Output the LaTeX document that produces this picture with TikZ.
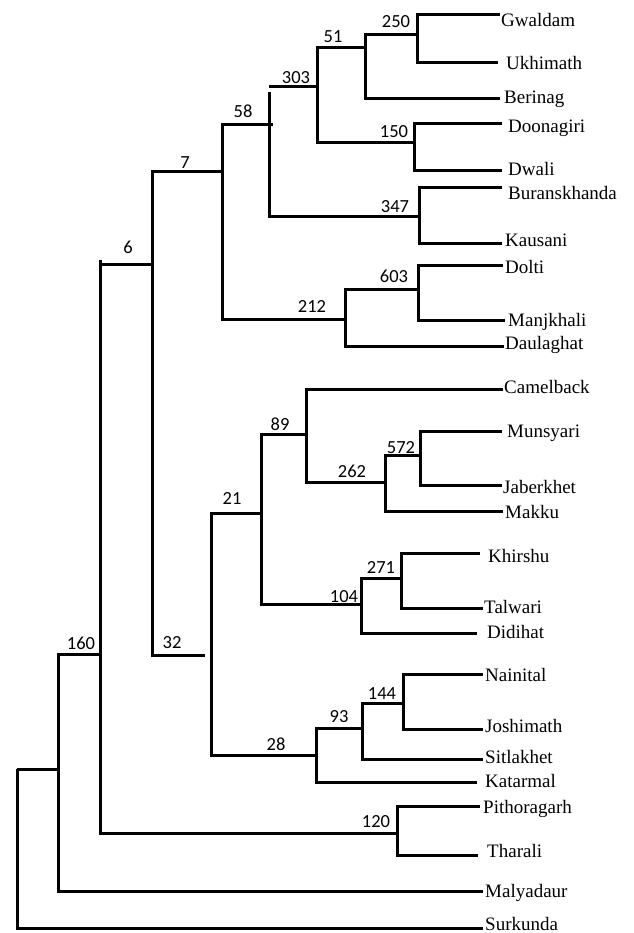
\documentclass[tikz,border=0pt]{standalone}
\usepackage{fontspec}
\setmainfont{Liberation Serif}
\newfontfamily\numfont{Carlito}
\begin{document}
\begin{tikzpicture}[x=1pt,y=-1pt,
  branch/.style={line width=3pt, line join=miter},
  taxon/.style={anchor=base west, inner sep=0pt, font=\fontsize{19}{19}\selectfont},
  boot/.style={anchor=base, inner sep=0pt, font={\numfont\fontsize{18.5}{18.5}\selectfont}}]
\useasboundingbox[fill=white] (0,0) rectangle (633,933);

% internal nodes: (x of the vertical bar, y of the incoming branch)
\coordinate (root) at (17,769);
\coordinate (c0)   at (58,769);
\coordinate (c160) at (100,654);
\coordinate (c6)   at (152,264);
\coordinate (c7)   at (222,172);
\coordinate (c58)  at (269,125);
\coordinate (c303) at (317,87);
\coordinate (c51)  at (365,48);
\coordinate (c250) at (417,35);
\coordinate (c150) at (414,143);
\coordinate (c347) at (419,217);
\coordinate (c212) at (345,319);
\coordinate (c603) at (418,289);
\coordinate (c32)  at (211,655);
\coordinate (c21)  at (261,513);
\coordinate (c89)  at (306,434);
\coordinate (c262) at (385,482);
\coordinate (c572) at (420,455);
\coordinate (c104) at (361,604);
\coordinate (c271) at (401,578);
\coordinate (c28)  at (316,755);
\coordinate (c93)  at (362,728);
\coordinate (c144) at (403,703);
\coordinate (c120) at (397,833);

% tips of the terminal branches
\coordinate (tGwaldam)      at (500,15);
\coordinate (tUkhimath)     at (498,63);
\coordinate (tBerinag)      at (500,99);
\coordinate (tDoonagiri)    at (502,124);
\coordinate (tDwali)        at (502,171);
\coordinate (tBuranskhanda) at (502,188);
\coordinate (tKausani)      at (502,243);
\coordinate (tDolti)        at (503,265);
\coordinate (tManjkhali)    at (505,320);
\coordinate (tDaulaghat)    at (504,346);
\coordinate (tCamelback)    at (503,389);
\coordinate (tMunsyari)     at (502,431);
\coordinate (tJaberkhet)    at (502,485);
\coordinate (tMakku)        at (503,511);
\coordinate (tKhirshu)      at (480,553);
\coordinate (tTalwari)      at (483,608);
\coordinate (tDidihat)      at (477,633);
\coordinate (tNainital)     at (483,674);
\coordinate (tJoshimath)    at (483,729);
\coordinate (tSitlakhet)    at (483,759);
\coordinate (tKatarmal)     at (477,782);
\coordinate (tPithoragarh)  at (480,806);
\coordinate (tTharali)      at (478,855);
\coordinate (tMalyadaur)    at (483,891);
\coordinate (tSurkunda)     at (483,928);

% taxon names
\node[taxon] (Gwaldam)      at (501,27)  {Gwaldam};
\node[taxon] (Ukhimath)     at (506,70)  {Ukhimath};
\node[taxon] (Berinag)      at (504,104) {Berinag};
\node[taxon] (Doonagiri)    at (508,133) {Doonagiri};
\node[taxon] (Dwali)        at (508,176) {Dwali};
\node[taxon] (Buranskhanda) at (508,200) {Buranskhanda};
\node[taxon] (Kausani)      at (505,246) {Kausani};
\node[taxon] (Dolti)        at (505,273) {Dolti};
\node[taxon] (Manjkhali)    at (508,326) {Manjkhali};
\node[taxon] (Daulaghat)    at (505,349) {Daulaghat};
\node[taxon] (Camelback)    at (504,393) {Camelback};
\node[taxon] (Munsyari)     at (507,437) {Munsyari};
\node[taxon] (Jaberkhet)    at (503,493) {Jaberkhet};
\node[taxon] (Makku)        at (505,518) {Makku};
\node[taxon] (Khirshu)      at (488,562) {Khirshu};
\node[taxon] (Talwari)      at (484,613) {Talwari};
\node[taxon] (Didihat)      at (487,638) {Didihat};
\node[taxon] (Nainital)     at (485,681) {Nainital};
\node[taxon] (Joshimath)    at (485,732) {Joshimath};
\node[taxon] (Sitlakhet)    at (485,763) {Sitlakhet};
\node[taxon] (Katarmal)     at (485,787) {Katarmal};
\node[taxon] (Pithoragarh)  at (483,813) {Pithoragarh};
\node[taxon] (Tharali)      at (487,857) {Tharali};
\node[taxon] (Malyadaur)    at (485,897) {Malyadaur};
\node[taxon] (Surkunda)     at (485,930) {Surkunda};

% branches
\draw[branch] (root) |- (c0);
\draw[branch] (root) |- (tSurkunda);
\draw[branch] (c0) |- (c160);
\draw[branch] (c0) |- (tMalyadaur);
\draw[branch] (c160) |- (c6);
\draw[branch] (c6 -| c160) -- ++(0,-4);
\draw[branch] (c160) |- (c120);
\draw[branch] (c120) |- (tPithoragarh);
\draw[branch] (c120) |- (tTharali);
\draw[branch] (c6) |- (c7);
\draw[branch] (c6) |- ([xshift=-6pt]c32);
\draw[branch] (c7) |- ([xshift=4pt]c58);
\draw[branch] (c7) |- (c212);
\draw[branch] (c58) |- (c347);
\draw[branch] (c58) -- ++(0,-33);
\draw[branch] (c58 |- c303) -- (c303);
\draw[branch] (c303) |- (c51);
\draw[branch] (c303) |- (c150);
\draw[branch] (c51) |- (c250);
\draw[branch] (c51) |- (tBerinag);
\draw[branch] (c250) |- (tGwaldam);
\draw[branch] (c250) |- (tUkhimath);
\draw[branch] (c150) |- (tDoonagiri);
\draw[branch] (c150) |- (tDwali);
\draw[branch] (c347) |- (tBuranskhanda);
\draw[branch] (c347) |- (tKausani);
\draw[branch] (c212) |- (c603);
\draw[branch] (c212) |- (tDaulaghat);
\draw[branch] (c603) |- (tDolti);
\draw[branch] (c603) |- (tManjkhali);
\draw[branch] (c32) |- (c21);
\draw[branch] (c32) |- (c28);
\draw[branch] (c21) |- (c89);
\draw[branch] (c21) |- (c104);
\draw[branch] (c89) |- (tCamelback);
\draw[branch] (c89) |- (c262);
\draw[branch] (c262) |- (c572);
\draw[branch] (c262) |- (tMakku);
\draw[branch] (c572) |- (tMunsyari);
\draw[branch] (c572) |- (tJaberkhet);
\draw[branch] (c104) |- (c271);
\draw[branch] (c104) |- (tDidihat);
\draw[branch] (c271) |- (tKhirshu);
\draw[branch] (c271) |- (tTalwari);
\draw[branch] (c28) |- (c93);
\draw[branch] (c28) |- (tKatarmal);
\draw[branch] (c93) |- (c144);
\draw[branch] (c93) |- (tSitlakhet);
\draw[branch] (c144) |- (tNainital);
\draw[branch] (c144) |- (tJoshimath);

% bootstrap values
\node[boot] (b250) at (396,28)  {250};
\node[boot] (b51)  at (333,43)  {51};
\node[boot] (b303) at (296,84)  {303};
\node[boot] (b58)  at (243,118) {58};
\node[boot] (b150) at (394,138) {150};
\node[boot] (b7)   at (185,169) {7};
\node[boot] (b347) at (395,212) {347};
\node[boot] (b6)   at (128,253) {6};
\node[boot] (b603) at (394,282) {603};
\node[boot] (b212) at (312,312) {212};
\node[boot] (b89)  at (280,430) {89};
\node[boot] (b572) at (401,453) {572};
\node[boot] (b262) at (352,477) {262};
\node[boot] (b21)  at (232,504) {21};
\node[boot] (b271) at (381,573) {271};
\node[boot] (b104) at (344,602) {104};
\node[boot] (b160) at (81,649)  {160};
\node[boot] (b32)  at (172,648) {32};
\node[boot] (b144) at (382,699) {144};
\node[boot] (b93)  at (339,722) {93};
\node[boot] (b28)  at (276,750) {28};
\node[boot] (b120) at (376,827) {120};
\end{tikzpicture}
\end{document}
